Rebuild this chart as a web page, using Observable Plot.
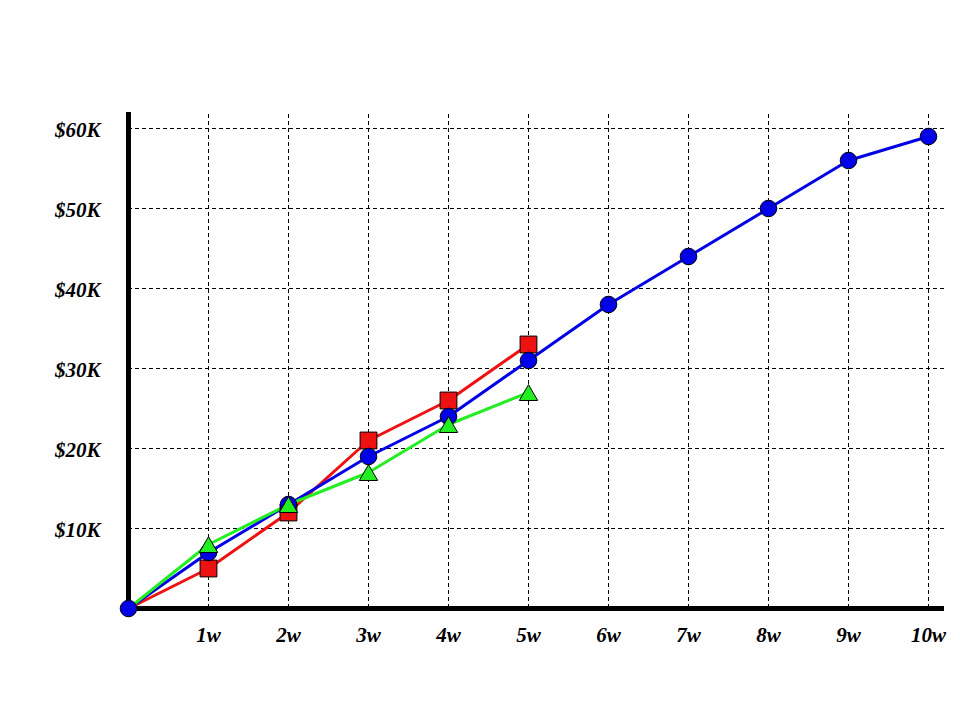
<!DOCTYPE html>
<html>
<head>
<meta charset="utf-8">
<script src="https://cdn.jsdelivr.net/npm/d3@7"></script>
<script src="https://cdn.jsdelivr.net/npm/@observablehq/plot@0.6"></script>
<style>
  html, body { margin: 0; padding: 0; background: #ffffff; }
  #chart { width: 960px; height: 720px; }
</style>
</head>
<body>
<div id="chart"></div>
<script>
const weeks = [0, 1, 2, 3, 4, 5, 6, 7, 8, 9, 10];
const blueValues = [0, 7000, 13000, 19000, 24000, 31000, 38000, 44000, 50000, 56000, 59000];
const redWeeks = [0, 1, 2, 3, 4, 5];
const redValues = [0, 5000, 12000, 21000, 26000, 33000];
const greenWeeks = [0, 1, 2, 3, 4, 5];
const greenValues = [0, 8000, 13000, 17000, 23000, 27000];
const yTicks = [10000, 20000, 30000, 40000, 50000, 60000];
const yTickLabels = ["$10K", "$20K", "$30K", "$40K", "$50K", "$60K"];
const xTicks = [1, 2, 3, 4, 5, 6, 7, 8, 9, 10];
const xTickLabels = ["1w", "2w", "3w", "4w", "5w", "6w", "7w", "8w", "9w", "10w"];

const blue = weeks.map((w, i) => ({x: w, y: blueValues[i]}));
const red = redWeeks.map((w, i) => ({x: w, y: redValues[i]}));
const green = greenWeeks.map((w, i) => ({x: w, y: greenValues[i]}));
const yLab = yTicks.map((v, i) => ({v, label: yTickLabels[i]}));
const xLab = xTicks.map((v, i) => ({v, label: xTickLabels[i]}));

const XMAX = 10.2, YMAX = 62000;
const font = "'Liberation Serif', 'Times New Roman', serif";

const chart = Plot.plot({
  width: 960,
  height: 720,
  marginLeft: 128,
  marginRight: 16,
  marginTop: 112,
  marginBottom: 112,
  x: {domain: [0, XMAX], axis: null},
  y: {domain: [0, YMAX], axis: null},
  style: {background: "#ffffff", overflow: "visible"},
  marks: [
    Plot.ruleY(yTicks, {x1: 0, x2: XMAX, stroke: "#000", strokeWidth: 1, strokeDasharray: "4,3"}),
    Plot.ruleX(xTicks, {y1: 0, y2: YMAX, stroke: "#000", strokeWidth: 1, strokeDasharray: "4,3"}),
    Plot.ruleX([0], {y1: 0, y2: YMAX, stroke: "#000", strokeWidth: 5}),
    Plot.ruleY([0], {x1: 0, x2: XMAX, stroke: "#000", strokeWidth: 5}),
    Plot.line(red, {x: "x", y: "y", stroke: "#ee1111", strokeWidth: 3}),
    Plot.line(blue, {x: "x", y: "y", stroke: "#0000e6", strokeWidth: 3}),
    Plot.line(green, {x: "x", y: "y", stroke: "#22ee22", strokeWidth: 3}),
    Plot.dot(red.filter(d => d.x > 0), {x: "x", y: "y", symbol: "square", r: 9.5, fill: "#ee1111", stroke: "#000", strokeWidth: 1}),
    Plot.dot(blue, {x: "x", y: "y", symbol: "circle", r: 8.3, fill: "#0000e6", stroke: "#000", strokeWidth: 1}),
    Plot.dot(green.filter(d => d.x > 0), {x: "x", y: "y", symbol: "triangle", r: 6.8, dy: 2.7, fill: "#22ee22", stroke: "#000", strokeWidth: 1}),
    Plot.text(yLab, {x: 0, y: "v", text: "label", dx: -28, dy: 2, textAnchor: "end", fontSize: 21, fontWeight: "bold", fontStyle: "italic", fontFamily: font, fill: "#000"}),
    Plot.text(xLab, {x: "v", y: 0, text: "label", dy: 27, textAnchor: "middle", fontSize: 21, fontWeight: "bold", fontStyle: "italic", fontFamily: font, fill: "#000"})
  ]
});
document.getElementById("chart").appendChild(chart);
</script>
</body>
</html>
